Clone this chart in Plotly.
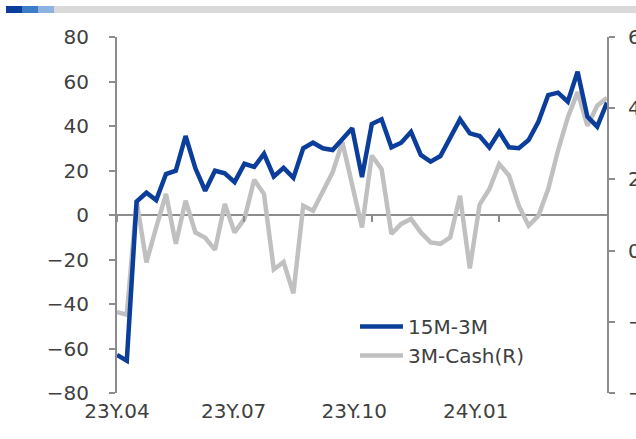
import plotly.graph_objects as go

W, H = 636, 439
ML, MR, MT, MB = 117, 29, 37, 46
PW, PH = W - ML - MR, H - MT - MB

# ---- data (weekly observations, index 0..50) ----
idx = list(range(51))
spread_15m_3m = [-62.9, -65.5, 6.0, 10.0, 6.7, 18.4, 19.9, 35.5, 21.0, 10.9,
                 19.9, 18.7, 14.8, 23.0, 21.6, 27.5, 17.3, 21.2, 16.7, 30.0,
                 32.5, 30.0, 29.2, 34.0, 39.0, 17.0, 40.9, 43.0, 30.4, 32.5,
                 37.4, 27.0, 24.0, 26.5, 34.5, 43.0, 36.7, 35.5, 30.4, 37.4,
                 30.4, 30.0, 33.7, 41.9, 53.9, 55.0, 50.9, 64.4, 44.2, 39.7, 50.5]
spread_3m_cash = [-1.73, -1.80, 1.40, -0.33, 0.65, 1.59, 0.19, 1.40, 0.51, 0.36,
                  0.02, 1.31, 0.51, 0.89, 1.99, 1.59, -0.53, -0.32, -1.20, 1.26,
                  1.12, 1.69, 2.20, 3.04, 1.90, 0.65, 2.67, 2.29, 0.47, 0.75,
                  0.89, 0.51, 0.23, 0.19, 0.37, 1.54, -0.50, 1.29, 1.73, 2.43,
                  2.11, 1.26, 0.70, 0.98, 1.73, 2.81, 3.74, 4.45, 3.51, 4.07, 4.29]
label_pos = [0, 11.9, 24.2, 36.6]
label_text = ["23Y.04", "23Y.07", "23Y.10", "24Y.01"]
tick_pos = [0, 13, 26, 39]

AX = "#8C8C8C"
TXT = "#404040"
FONT = "DejaVu Sans"
FS = 20

fig = go.Figure()
fig.add_trace(go.Scatter(x=idx, y=spread_3m_cash, name="3M-Cash(R)", mode="lines",
                         line=dict(color="#C0C0C0", width=4.5), yaxis="y",
                         legendrank=2))
fig.add_trace(go.Scatter(x=idx, y=spread_15m_3m, name="15M-3M", mode="lines",
                         line=dict(color="#0B3D9A", width=4.5), yaxis="y2",
                         legendrank=1))
fig.add_trace(go.Scatter(x=[None], y=[None], xaxis="x2", yaxis="y",
                         showlegend=False, hoverinfo="skip"))


def px(xp):
    return (xp - ML) / PW


def py(yp):
    return (H - MB - yp) / PH


header = [(6, 22, "#0B3D9A"), (22, 38, "#3D7DC8"), (38, 54, "#8DB1E1"), (54, 636, "#D9D9D9")]
shapes = []
for x0, x1, c in header:
    shapes.append(dict(type="rect", xref="paper", yref="paper",
                       x0=px(x0), x1=px(x1), y0=py(13), y1=py(6),
                       fillcolor=c, line=dict(width=0), layer="above"))

fig.update_layout(
    width=W, height=H,
    margin=dict(l=ML, r=MR, t=MT, b=MB, pad=0),
    paper_bgcolor="white", plot_bgcolor="white",
    font=dict(family=FONT, size=FS, color=TXT),
    showlegend=True,
    legend=dict(x=px(355), y=py(307), xanchor="left", yanchor="top",
                bgcolor="rgba(0,0,0,0)", font=dict(family=FONT, size=FS, color=TXT),
                itemwidth=43, tracegroupgap=0),
    shapes=shapes,
    xaxis=dict(range=[0, 50], tickmode="array", tickvals=label_pos, ticktext=label_text,
               ticks="", showline=False, showgrid=False, zeroline=False,
               tickfont=dict(family=FONT, size=FS, color=TXT), automargin=False,
               ticklabelstandoff=4),
    xaxis2=dict(range=[0, 50], overlaying="x", anchor="free", position=0.5,
                tickmode="array", tickvals=tick_pos, ticks="outside", ticklen=6,
                tickwidth=2, tickcolor=AX, showticklabels=False, showline=False,
                showgrid=False, zeroline=False),
    yaxis=dict(range=[-4, 6], tickmode="linear", tick0=-4, dtick=2, side="right",
               ticks="outside", ticklen=6, tickwidth=2, tickcolor=AX,
               showline=True, linecolor=AX, linewidth=2, showgrid=False, zeroline=False,
               tickfont=dict(family=FONT, size=FS, color=TXT), automargin=False,
               ticklabelstandoff=9),
    yaxis2=dict(range=[-80, 80], tickmode="linear", tick0=-80, dtick=20, side="left",
                overlaying="y", anchor="x",
                ticks="outside", ticklen=6, tickwidth=2, tickcolor=AX,
                showline=True, linecolor=AX, linewidth=2, showgrid=False,
                zeroline=True, zerolinecolor=AX, zerolinewidth=2,
                tickfont=dict(family=FONT, size=FS, color=TXT), automargin=False,
                ticklabelstandoff=16),
)

fig.write_html("out.html")
